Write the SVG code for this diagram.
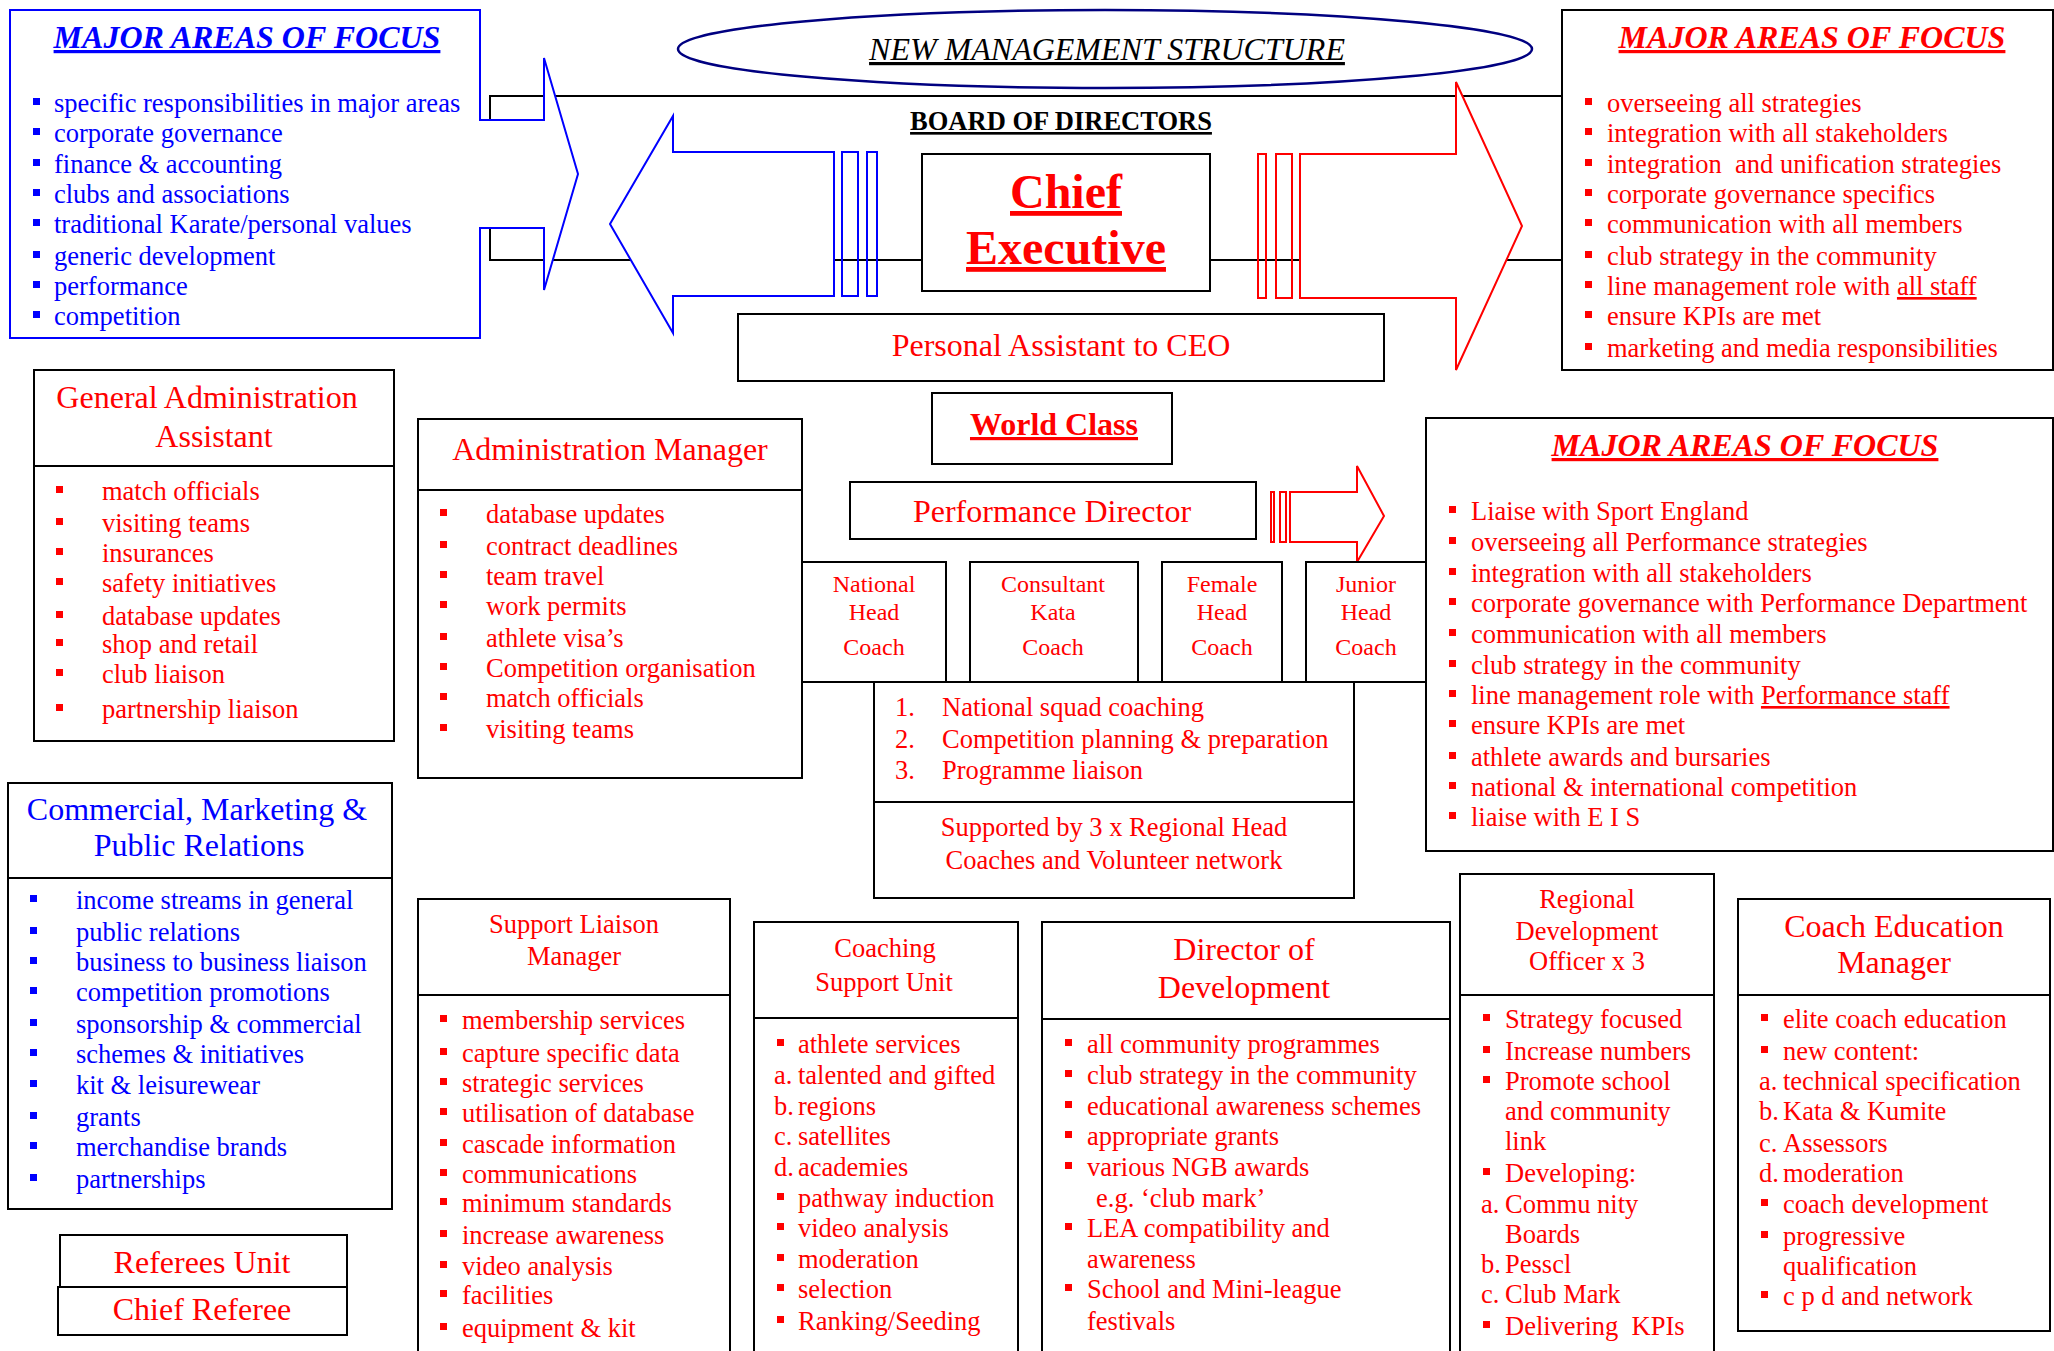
<svg xmlns="http://www.w3.org/2000/svg" width="2054" height="1351" viewBox="0 0 2054 1351">
<style>
.bx{fill:#fff;stroke:#000;stroke-width:2}
.ln{fill:none;stroke:#000;stroke-width:2}
text{font-family:"Liberation Serif","Times New Roman",serif}
.r{fill:#f00}.u{fill:#00f}.k{fill:#000}
.f26{font-size:26.5px}.f32{font-size:32px}.f24{font-size:24px}.f48{font-size:48px}
.m{text-anchor:middle}
.ul{text-decoration:underline}
.bi{font-weight:bold;font-style:italic}
.bd{font-weight:bold}
.pre{white-space:pre}
</style>
<rect width="2054" height="1351" fill="#fff"/>
<g id="connectors">
  <path class="ln" d="M1562,96 H490 V260 H1562"/>
  <line class="ln" x1="802" y1="682" x2="1426" y2="682"/>
  <g id="arrow-left" fill="#fff" stroke="#00f" stroke-width="2">
    <path d="M610,224 L673,116 V152 H834 V296 H673 V333 Z"/>
    <rect x="842" y="152" width="16" height="144" fill="none"/>
    <rect x="867" y="152" width="10" height="144" fill="none"/>
  </g>
  <g id="arrow-right" fill="#fff" stroke="#f00" stroke-width="2">
    <path d="M1300,154 H1456 V82 L1522,226 L1456,370 V298 H1300 Z"/>
    <rect x="1258" y="154" width="8" height="144" fill="none"/>
    <rect x="1276" y="154" width="16" height="144" fill="none"/>
  </g>
  <g id="arrow-perf" fill="#fff" stroke="#f00" stroke-width="2">
    <path d="M1290,492 H1357 V466 L1384,516 L1357,562 V542 H1290 Z"/>
    <rect x="1271" y="492" width="3" height="50" fill="none"/>
    <rect x="1280" y="492" width="6" height="50" fill="none"/>
  </g>
</g>

<g id="focus-left">
  <path d="M10,10 H480 V120 H544 V58 L578,174 L544,290 V228 H480 V338 H10 Z" fill="#fff" stroke="#00f" stroke-width="2"/>
  <text class="u bi ul m" x="247" y="48" font-size="32">MAJOR AREAS OF FOCUS</text>
  <g class="u f26">
    <text x="54" y="112">specific responsibilities in major areas</text>
    <text x="54" y="142">corporate governance</text>
    <text x="54" y="173">finance &amp; accounting</text>
    <text x="54" y="203">clubs and associations</text>
    <text x="54" y="233">traditional Karate/personal values</text>
    <text x="54" y="265">generic development</text>
    <text x="54" y="295">performance</text>
    <text x="54" y="325">competition</text>
  </g>
  <g fill="#00f">
    <rect x="33" y="98" width="7" height="7"/><rect x="33" y="128" width="7" height="7"/>
    <rect x="33" y="159" width="7" height="7"/><rect x="33" y="189" width="7" height="7"/>
    <rect x="33" y="219" width="7" height="7"/><rect x="33" y="251" width="7" height="7"/>
    <rect x="33" y="281" width="7" height="7"/><rect x="33" y="311" width="7" height="7"/>
  </g>
</g>

<g id="title">
  <ellipse cx="1105" cy="49" rx="427" ry="39" fill="none" stroke="#000080" stroke-width="2.5"/>
  <text class="k ul m" x="1107" y="60" font-size="32" font-style="italic">NEW MANAGEMENT STRUCTURE</text>
</g>

<g id="board">
  <text class="k bd ul m" x="1061" y="130" font-size="26.5">BOARD OF DIRECTORS</text>
</g>

<g id="chief-executive">
  <rect class="bx" x="922" y="154" width="288" height="137"/>
  <text class="r bd ul m f48" x="1066" y="208">Chief</text>
  <text class="r bd ul m f48" x="1066" y="264">Executive</text>
</g>

<g id="personal-assistant">
  <rect class="bx" x="738" y="314" width="646" height="67"/>
  <text class="r m f32" x="1061" y="356">Personal Assistant to CEO</text>
</g>

<g id="focus-ceo">
  <rect class="bx" x="1562" y="10" width="491" height="360"/>
  <text class="r bi ul m" x="1812" y="48" font-size="32">MAJOR AREAS OF FOCUS</text>
  <g class="r f26">
    <text x="1607" y="112">overseeing all strategies</text>
    <text x="1607" y="142">integration with all stakeholders</text>
    <text x="1607" y="173" class="pre">integration  and unification strategies</text>
    <text x="1607" y="203">corporate governance specifics</text>
    <text x="1607" y="233">communication with all members</text>
    <text x="1607" y="265">club strategy in the community</text>
    <text x="1607" y="295">line management role with <tspan class="ul">all staff</tspan></text>
    <text x="1607" y="325">ensure KPIs are met</text>
    <text x="1607" y="357">marketing and media responsibilities</text>
  </g>
  <g fill="#f00">
    <rect x="1585" y="98" width="7" height="7"/><rect x="1585" y="128" width="7" height="7"/>
    <rect x="1585" y="159" width="7" height="7"/><rect x="1585" y="189" width="7" height="7"/>
    <rect x="1585" y="219" width="7" height="7"/><rect x="1585" y="251" width="7" height="7"/>
    <rect x="1585" y="281" width="7" height="7"/><rect x="1585" y="311" width="7" height="7"/>
    <rect x="1585" y="343" width="7" height="7"/>
  </g>
</g>

<g id="general-admin-assistant">
  <rect class="bx" x="34" y="370" width="360" height="96"/>
  <rect class="bx" x="34" y="466" width="360" height="275"/>
  <text class="r f32 m" x="207" y="408">General Administration</text>
  <text class="r f32 m" x="214" y="447">Assistant</text>
  <g class="r f26">
    <text x="102" y="500">match officials</text>
    <text x="102" y="532">visiting teams</text>
    <text x="102" y="562">insurances</text>
    <text x="102" y="592">safety initiatives</text>
    <text x="102" y="625">database updates</text>
    <text x="102" y="653">shop and retail</text>
    <text x="102" y="683">club liaison</text>
    <text x="102" y="718">partnership liaison</text>
  </g>
  <g fill="#f00">
    <rect x="56" y="486" width="7" height="7"/><rect x="56" y="518" width="7" height="7"/>
    <rect x="56" y="548" width="7" height="7"/><rect x="56" y="578" width="7" height="7"/>
    <rect x="56" y="611" width="7" height="7"/><rect x="56" y="639" width="7" height="7"/>
    <rect x="56" y="669" width="7" height="7"/><rect x="56" y="704" width="7" height="7"/>
  </g>
</g>

<g id="administration-manager">
  <rect class="bx" x="418" y="419" width="384" height="71"/>
  <rect class="bx" x="418" y="490" width="384" height="288"/>
  <text class="r f32 m" x="610" y="460">Administration Manager</text>
  <g class="r f26">
    <text x="486" y="523">database updates</text>
    <text x="486" y="555">contract deadlines</text>
    <text x="486" y="585">team travel</text>
    <text x="486" y="615">work permits</text>
    <text x="486" y="647">athlete visa’s</text>
    <text x="486" y="677">Competition organisation</text>
    <text x="486" y="707">match officials</text>
    <text x="486" y="738">visiting teams</text>
  </g>
  <g fill="#f00">
    <rect x="440" y="509" width="7" height="7"/><rect x="440" y="541" width="7" height="7"/>
    <rect x="440" y="571" width="7" height="7"/><rect x="440" y="601" width="7" height="7"/>
    <rect x="440" y="633" width="7" height="7"/><rect x="440" y="663" width="7" height="7"/>
    <rect x="440" y="693" width="7" height="7"/><rect x="440" y="724" width="7" height="7"/>
  </g>
</g>

<g id="world-class">
  <rect class="bx" x="932" y="393" width="240" height="71"/>
  <text class="r bd ul m f32" x="1054" y="435">World Class</text>
</g>

<g id="performance-director">
  <rect class="bx" x="850" y="482" width="406" height="57"/>
  <text class="r f32 m" x="1052" y="522">Performance Director</text>
</g>

<g id="national-head-coach">
  <rect class="bx" x="802" y="562" width="144" height="120"/>
  <text class="r f24 m" x="874" y="592">National</text>
  <text class="r f24 m" x="874" y="620">Head</text>
  <text class="r f24 m" x="874" y="655">Coach</text>
</g>
<g id="consultant-kata-coach">
  <rect class="bx" x="970" y="562" width="168" height="120"/>
  <text class="r f24 m" x="1053" y="592">Consultant</text>
  <text class="r f24 m" x="1053" y="620">Kata</text>
  <text class="r f24 m" x="1053" y="655">Coach</text>
</g>
<g id="female-head-coach">
  <rect class="bx" x="1162" y="562" width="120" height="120"/>
  <text class="r f24 m" x="1222" y="592">Female</text>
  <text class="r f24 m" x="1222" y="620">Head</text>
  <text class="r f24 m" x="1222" y="655">Coach</text>
</g>
<g id="junior-head-coach">
  <rect class="bx" x="1306" y="562" width="120" height="120"/>
  <text class="r f24 m" x="1366" y="592">Junior</text>
  <text class="r f24 m" x="1366" y="620">Head</text>
  <text class="r f24 m" x="1366" y="655">Coach</text>
</g>

<g id="coaching-tasks">
  <rect class="bx" x="874" y="682" width="480" height="120"/>
  <rect class="bx" x="874" y="802" width="480" height="96"/>
  <g class="r f26">
    <text x="895" y="716">1.</text><text x="942" y="716">National squad coaching</text>
    <text x="895" y="748">2.</text><text x="942" y="748">Competition planning &amp; preparation</text>
    <text x="895" y="779">3.</text><text x="942" y="779">Programme liaison</text>
    <text class="m" x="1114" y="836">Supported by 3 x Regional Head</text>
    <text class="m" x="1114" y="869">Coaches and Volunteer network</text>
  </g>
</g>

<g id="focus-performance">
  <rect class="bx" x="1426" y="418" width="627" height="433"/>
  <text class="r bi ul m" x="1745" y="456" font-size="32">MAJOR AREAS OF FOCUS</text>
  <g class="r f26">
    <text x="1471" y="520">Liaise with Sport England</text>
    <text x="1471" y="551">overseeing all Performance strategies</text>
    <text x="1471" y="582">integration with all stakeholders</text>
    <text x="1471" y="612">corporate governance with Performance Department</text>
    <text x="1471" y="643">communication with all members</text>
    <text x="1471" y="674">club strategy in the community</text>
    <text x="1471" y="704">line management role with <tspan class="ul">Performance staff</tspan></text>
    <text x="1471" y="734">ensure KPIs are met</text>
    <text x="1471" y="766">athlete awards and bursaries</text>
    <text x="1471" y="796">national &amp; international competition</text>
    <text x="1471" y="826">liaise with E I S</text>
  </g>
  <g fill="#f00">
    <rect x="1449" y="506" width="7" height="7"/><rect x="1449" y="537" width="7" height="7"/>
    <rect x="1449" y="568" width="7" height="7"/><rect x="1449" y="598" width="7" height="7"/>
    <rect x="1449" y="629" width="7" height="7"/><rect x="1449" y="660" width="7" height="7"/>
    <rect x="1449" y="690" width="7" height="7"/><rect x="1449" y="720" width="7" height="7"/>
    <rect x="1449" y="752" width="7" height="7"/><rect x="1449" y="782" width="7" height="7"/>
    <rect x="1449" y="812" width="7" height="7"/>
  </g>
</g>

<g id="commercial">
  <rect class="bx" x="8" y="783" width="384" height="95"/>
  <rect class="bx" x="8" y="878" width="384" height="331"/>
  <text class="u f32 m" x="197" y="820">Commercial, Marketing &amp;</text>
  <text class="u f32 m" x="199" y="856">Public Relations</text>
  <g class="u f26">
    <text x="76" y="909">income streams in general</text>
    <text x="76" y="941">public relations</text>
    <text x="76" y="971">business to business liaison</text>
    <text x="76" y="1001">competition promotions</text>
    <text x="76" y="1033">sponsorship &amp; commercial</text>
    <text x="76" y="1063">schemes &amp; initiatives</text>
    <text x="76" y="1094">kit &amp; leisurewear</text>
    <text x="76" y="1126">grants</text>
    <text x="76" y="1156">merchandise brands</text>
    <text x="76" y="1188">partnerships</text>
  </g>
  <g fill="#00f">
    <rect x="30" y="895" width="7" height="7"/><rect x="30" y="927" width="7" height="7"/>
    <rect x="30" y="957" width="7" height="7"/><rect x="30" y="987" width="7" height="7"/>
    <rect x="30" y="1019" width="7" height="7"/><rect x="30" y="1049" width="7" height="7"/>
    <rect x="30" y="1080" width="7" height="7"/><rect x="30" y="1112" width="7" height="7"/>
    <rect x="30" y="1142" width="7" height="7"/><rect x="30" y="1174" width="7" height="7"/>
  </g>
</g>

<g id="referees-unit">
  <rect class="bx" x="60" y="1235" width="287" height="52"/>
  <text class="r f32 m" x="202" y="1273">Referees Unit</text>
</g>
<g id="chief-referee">
  <rect class="bx" x="58" y="1287" width="289" height="48"/>
  <text class="r f32 m" x="202" y="1320">Chief Referee</text>
</g>

<g id="support-liaison-manager">
  <rect class="bx" x="418" y="899" width="312" height="96"/>
  <rect class="bx" x="418" y="995" width="312" height="370"/>
  <text class="r f26 m" x="574" y="933">Support Liaison</text>
  <text class="r f26 m" x="574" y="965">Manager</text>
  <g class="r f26">
    <text x="462" y="1029">membership services</text>
    <text x="462" y="1062">capture specific data</text>
    <text x="462" y="1092">strategic services</text>
    <text x="462" y="1122">utilisation of database</text>
    <text x="462" y="1153">cascade information</text>
    <text x="462" y="1183">communications</text>
    <text x="462" y="1212">minimum standards</text>
    <text x="462" y="1244">increase awareness</text>
    <text x="462" y="1275">video analysis</text>
    <text x="462" y="1304">facilities</text>
    <text x="462" y="1337">equipment &amp; kit</text>
  </g>
  <g fill="#f00">
    <rect x="440" y="1015" width="7" height="7"/><rect x="440" y="1048" width="7" height="7"/>
    <rect x="440" y="1078" width="7" height="7"/><rect x="440" y="1108" width="7" height="7"/>
    <rect x="440" y="1139" width="7" height="7"/><rect x="440" y="1169" width="7" height="7"/>
    <rect x="440" y="1198" width="7" height="7"/><rect x="440" y="1230" width="7" height="7"/>
    <rect x="440" y="1261" width="7" height="7"/><rect x="440" y="1290" width="7" height="7"/>
    <rect x="440" y="1323" width="7" height="7"/>
  </g>
</g>

<g id="coaching-support-unit">
  <rect class="bx" x="754" y="922" width="264" height="96"/>
  <rect class="bx" x="754" y="1018" width="264" height="350"/>
  <text class="r f26 m" x="885" y="957">Coaching</text>
  <text class="r f26 m" x="884" y="991">Support Unit</text>
  <g class="r f26">
    <text x="798" y="1053">athlete services</text>
    <text x="774" y="1084">a.<tspan x="798">talented and gifted</tspan></text>
    <text x="774" y="1115">b.<tspan x="798">regions</tspan></text>
    <text x="774" y="1145">c.<tspan x="798">satellites</tspan></text>
    <text x="774" y="1176">d.<tspan x="798">academies</tspan></text>
    <text x="798" y="1207">pathway induction</text>
    <text x="798" y="1237">video analysis</text>
    <text x="798" y="1268">moderation</text>
    <text x="798" y="1298">selection</text>
    <text x="798" y="1330">Ranking/Seeding</text>
  </g>
  <g fill="#f00">
    <rect x="777" y="1039" width="7" height="7"/><rect x="777" y="1193" width="7" height="7"/>
    <rect x="777" y="1223" width="7" height="7"/><rect x="777" y="1254" width="7" height="7"/>
    <rect x="777" y="1284" width="7" height="7"/><rect x="777" y="1316" width="7" height="7"/>
  </g>
</g>

<g id="director-of-development">
  <rect class="bx" x="1042" y="922" width="408" height="97"/>
  <rect class="bx" x="1042" y="1019" width="408" height="350"/>
  <text class="r f32 m" x="1244" y="960">Director of</text>
  <text class="r f32 m" x="1244" y="998">Development</text>
  <g class="r f26">
    <text x="1087" y="1053">all community programmes</text>
    <text x="1087" y="1084">club strategy in the community</text>
    <text x="1087" y="1115">educational awareness schemes</text>
    <text x="1087" y="1145">appropriate grants</text>
    <text x="1087" y="1176">various NGB awards</text>
    <text x="1096" y="1207">e.g. ‘club mark’</text>
    <text x="1087" y="1237">LEA compatibility and</text>
    <text x="1087" y="1268">awareness</text>
    <text x="1087" y="1298">School and Mini-league</text>
    <text x="1087" y="1330">festivals</text>
  </g>
  <g fill="#f00">
    <rect x="1065" y="1039" width="7" height="7"/><rect x="1065" y="1070" width="7" height="7"/>
    <rect x="1065" y="1101" width="7" height="7"/><rect x="1065" y="1131" width="7" height="7"/>
    <rect x="1065" y="1162" width="7" height="7"/><rect x="1065" y="1223" width="7" height="7"/>
    <rect x="1065" y="1284" width="7" height="7"/>
  </g>
</g>

<g id="regional-development-officer">
  <rect class="bx" x="1460" y="874" width="254" height="121"/>
  <rect class="bx" x="1460" y="995" width="254" height="370"/>
  <text class="r f26 m" x="1587" y="908">Regional</text>
  <text class="r f26 m" x="1587" y="940">Development</text>
  <text class="r f26 m" x="1587" y="970">Officer x 3</text>
  <g class="r f26">
    <text x="1505" y="1028">Strategy focused</text>
    <text x="1505" y="1060">Increase numbers</text>
    <text x="1505" y="1090">Promote school</text>
    <text x="1505" y="1120">and community</text>
    <text x="1505" y="1150">link</text>
    <text x="1505" y="1182">Developing:</text>
    <text x="1481" y="1213">a.<tspan x="1505">Commu nity</tspan></text>
    <text x="1505" y="1243">Boards</text>
    <text x="1481" y="1273">b.<tspan x="1505">Pesscl</tspan></text>
    <text x="1481" y="1303">c.<tspan x="1505">Club Mark</tspan></text>
    <text x="1505" y="1335" class="pre">Delivering  KPIs</text>
  </g>
  <g fill="#f00">
    <rect x="1483" y="1014" width="7" height="7"/><rect x="1483" y="1046" width="7" height="7"/>
    <rect x="1483" y="1076" width="7" height="7"/><rect x="1483" y="1168" width="7" height="7"/>
    <rect x="1483" y="1321" width="7" height="7"/>
  </g>
</g>

<g id="coach-education-manager">
  <rect class="bx" x="1738" y="899" width="312" height="96"/>
  <rect class="bx" x="1738" y="995" width="312" height="336"/>
  <text class="r f32 m" x="1894" y="937">Coach Education</text>
  <text class="r f32 m" x="1894" y="973">Manager</text>
  <g class="r f26">
    <text x="1783" y="1028">elite coach education</text>
    <text x="1783" y="1060">new content:</text>
    <text x="1759" y="1090">a.<tspan x="1783">technical specification</tspan></text>
    <text x="1759" y="1120">b.<tspan x="1783">Kata &amp; Kumite</tspan></text>
    <text x="1759" y="1152">c.<tspan x="1783">Assessors</tspan></text>
    <text x="1759" y="1182">d.<tspan x="1783">moderation</tspan></text>
    <text x="1783" y="1213">coach development</text>
    <text x="1783" y="1245">progressive</text>
    <text x="1783" y="1275">qualification</text>
    <text x="1783" y="1305">c p d and network</text>
  </g>
  <g fill="#f00">
    <rect x="1761" y="1014" width="7" height="7"/><rect x="1761" y="1046" width="7" height="7"/>
    <rect x="1761" y="1199" width="7" height="7"/><rect x="1761" y="1231" width="7" height="7"/>
    <rect x="1761" y="1291" width="7" height="7"/>
  </g>
</g>
</svg>
